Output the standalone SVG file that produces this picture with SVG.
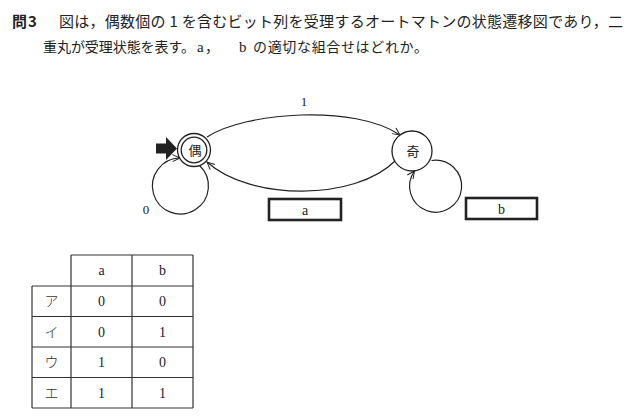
<svg xmlns="http://www.w3.org/2000/svg" width="636" height="420" viewBox="0 0 636 420">
<defs>
<style>
.jp{font-family:"Noto Sans CJK JP","Noto Sans CJK SC",sans-serif;font-size:15px;fill:#222}
.jp2{font-family:"Noto Sans CJK JP","Noto Sans CJK SC",sans-serif;font-size:14px;fill:#222}
.sr{font-family:"Liberation Serif","DejaVu Serif",serif;fill:#222}
.edge{fill:none;stroke:#222;stroke-width:1.2}
.node{fill:#fff;stroke:#222;stroke-width:1.3}
.box{fill:#fff;stroke:#222;stroke-width:2.6}
.grid{stroke:#333;stroke-width:1.2;fill:none}
.lbl{font-family:"Noto Sans CJK JP",sans-serif;font-size:13px;fill:#222;text-anchor:middle}
.cell{font-family:"Liberation Serif",serif;font-size:14px;fill:#222;text-anchor:middle}
.kana{font-family:"Noto Sans CJK JP",sans-serif;font-size:14px;fill:#333;text-anchor:middle;font-weight:300}
</style>
<marker id="arr" markerWidth="10" markerHeight="10" refX="8" refY="4" orient="auto" markerUnits="userSpaceOnUse">
<path d="M0.5,0.5 L8,4 L0.5,7.5" fill="none" stroke="#222" stroke-width="1"/>
</marker>
</defs>
<rect width="636" height="420" fill="#fff"/>
<g id="title">
<text class="jp" x="12" y="27" style="font-weight:700">問</text>
<text class="jp" x="28" y="27" style="font-weight:700">3</text>
<text class="jp" x="59" y="27" textLength="564" lengthAdjust="spacing">図は，偶数個の 1 を含むビット列を受理するオートマトンの状態遷移図であり，二</text>
<text class="jp2" x="43" y="52" textLength="152" lengthAdjust="spacing">重丸が受理状態を表す。</text>
<text class="sr" x="197" y="52" style="font-size:15px">a</text>
<text class="jp2" x="205" y="52">，</text>
<text class="sr" x="239" y="52" style="font-size:15px">b</text>
<text class="jp2" x="253" y="52" textLength="175" lengthAdjust="spacing">の適切な組合せはどれか。</text>
</g>
<g id="connectors">
<path class="edge" d="M207,137 C245,112 355,104 400,135" marker-end="url(#arr)"/>
<path class="edge" d="M395,161 C355,201 250,201 207,162" marker-end="url(#arr)"/>
<path class="edge" d="M199.5,165.5 A28,28 0 1 1 180,158" marker-end="url(#arr)"/>
<path class="edge" d="M431.5,160.5 A26,26 0 1 1 414.5,171" marker-end="url(#arr)"/>
<text class="sr" x="304" y="106" style="font-size:13px;text-anchor:middle">1</text>
<text class="sr" x="146" y="214" style="font-size:13px;text-anchor:middle">0</text>
<path d="M156,143.5 L166,143.5 L166,137 L177,148.5 L166,160 L166,153.5 L156,153.5 Z" fill="#222"/>
</g>
<g id="node-even">
<circle class="node" cx="194" cy="150" r="16.5"/>
<circle class="node" cx="194" cy="150" r="12.8"/>
<text class="lbl" x="195" y="155">偶</text>
</g>
<g id="node-odd">
<circle class="node" cx="412" cy="151" r="20"/>
<text class="lbl" x="413" y="156">奇</text>
</g>
<g id="box-a">
<rect class="box" x="269" y="199" width="72" height="21"/>
<text class="sr" x="305" y="214.5" style="font-size:14px;text-anchor:middle">a</text>
</g>
<g id="box-b">
<rect class="box" x="466" y="198" width="71" height="21"/>
<text class="sr" x="501.5" y="213.5" style="font-size:14px;text-anchor:middle">b</text>
</g>
<g id="table">
<path class="grid" d="M71,255 H193 M32,286 H193 M32,316.5 H193 M32,347 H193 M32,377.5 H193 M32,408 H193 M32,286 V408 M71,255 V408 M132,255 V408 M193,255 V408"/>
<text class="cell" x="101.5" y="275">a</text>
<text class="cell" x="162.5" y="275">b</text>
<text class="kana" x="51.5" y="306">ア</text>
<text class="kana" x="51.5" y="336.5">イ</text>
<text class="kana" x="51.5" y="367">ウ</text>
<text class="kana" x="51.5" y="397.5">エ</text>
<text class="cell" x="101.5" y="306">0</text>
<text class="cell" x="162.5" y="306">0</text>
<text class="cell" x="101.5" y="336.5">0</text>
<text class="cell" x="162.5" y="336.5">1</text>
<text class="cell" x="101.5" y="367">1</text>
<text class="cell" x="162.5" y="367">0</text>
<text class="cell" x="101.5" y="397.5">1</text>
<text class="cell" x="162.5" y="397.5">1</text>
</g>
</svg>
